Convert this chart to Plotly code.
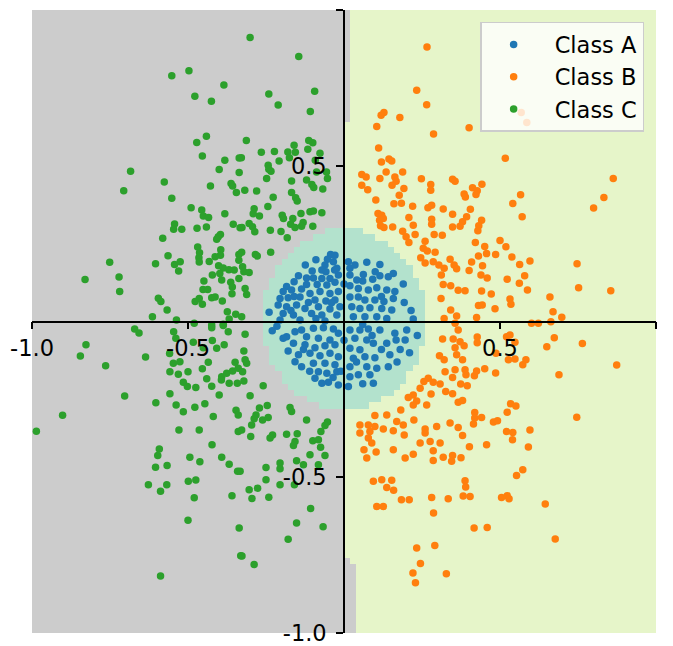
import numpy as np
import plotly.graph_objects as go

# ---------------- data ----------------
class_names = ["Class A", "Class B", "Class C"]
class_colors = ["#1f77b4", "#ff7f0e", "#2ca02c"]
region_colors = ["#b3e2cd", "#e6f5c9", "#cccccc"]

xa = [-0.043, -0.029, -0.034, -0.053, -0.090, -0.061, -0.071, -0.058, -0.124, -0.102, -0.023, -0.018,
      -0.146, -0.098, -0.071, -0.045, -0.160, -0.120, -0.086, -0.055, -0.029, -0.184, -0.195, -0.168,
      -0.136, -0.109, -0.077, -0.045, -0.018, -0.205, -0.179, -0.141, -0.114, -0.093, -0.058, -0.029,
      -0.211, -0.184, -0.152, -0.125, -0.082, -0.045, -0.013, -0.195, -0.162, -0.104, -0.071, -0.023,
      -0.205, -0.141, -0.061,
      0.014, 0.019, 0.035, 0.073, 0.115, 0.019, 0.041, 0.062, 0.092, 0.115, 0.142, 0.158, 0.019, 0.046,
      0.078, 0.105, 0.137, 0.163, 0.019, 0.046, 0.067, 0.099, 0.128, 0.158, 0.193, 0.025, 0.051, 0.083,
      0.121, 0.153, 0.030, 0.067, 0.105, 0.137, 0.222,
      -0.184, -0.195, -0.157, -0.136, -0.098, -0.066, -0.034, -0.018, -0.120, -0.082, -0.045, -0.162,
      -0.125, -0.093, -0.061, -0.029, -0.179, -0.146, -0.109, -0.077, -0.045, -0.018, -0.157, -0.136,
      -0.098, -0.061, -0.029, -0.082, -0.055, -0.023, -0.093, -0.050, -0.018, -0.071,
      0.019, 0.051, 0.078, 0.115, 0.163, 0.201, 0.035, 0.073, 0.137, 0.167, 0.196, 0.019, 0.051, 0.094,
      0.147, 0.030, 0.067, 0.099, 0.019, 0.073, 0.105, 0.142, 0.019, 0.046, 0.083, 0.094, 0.014,
      -0.215, -0.240, 0.235, 0.215, 0.190, 0.210, 0.170,
      -0.030, -0.120, -0.160, -0.090, -0.040, 0.060, 0.100, 0.120, 0.060, 0.090, 0.120, 0.040,
      -0.010, -0.130, -0.110, -0.035, 0.060, 0.180, -0.230, -0.170, 0.000, 0.000]
ya = [0.215, 0.213, 0.192, 0.200, 0.198, 0.181, 0.165, 0.160, 0.181, 0.162, 0.171, 0.149,
      0.147, 0.140, 0.138, 0.138, 0.128, 0.119, 0.119, 0.117, 0.126, 0.112, 0.096, 0.101,
      0.104, 0.090, 0.096, 0.090, 0.096, 0.074, 0.076, 0.079, 0.061, 0.069, 0.066, 0.069,
      0.053, 0.047, 0.053, 0.042, 0.047, 0.040, 0.047, 0.026, 0.021, 0.026, 0.021, 0.021,
      0.005, 0.005, 0.002,
      0.192, 0.171, 0.181, 0.190, 0.183, 0.149, 0.133, 0.151, 0.136, 0.147, 0.144, 0.154, 0.115, 0.106,
      0.101, 0.108, 0.101, 0.096, 0.079, 0.079, 0.069, 0.069, 0.064, 0.074, 0.061, 0.047, 0.042, 0.044,
      0.042, 0.037, 0.015, 0.015, 0.015, 0.010, 0.008,
      -0.049, -0.054, -0.033, -0.027, -0.022, -0.020, -0.024, -0.038, -0.049, -0.054, -0.059, -0.070,
      -0.075, -0.084, -0.078, -0.075, -0.095, -0.107, -0.102, -0.110, -0.102, -0.113, -0.129, -0.145,
      -0.134, -0.134, -0.139, -0.161, -0.166, -0.161, -0.182, -0.195, -0.204, -0.198,
      -0.027, -0.027, -0.024, -0.027, -0.038, -0.027, -0.054, -0.059, -0.070, -0.059, -0.059, -0.086, -0.091, -0.070,
      -0.107, -0.118, -0.113, -0.116, -0.145, -0.145, -0.150, -0.145, -0.177, -0.171, -0.171, -0.198, -0.209,
      -0.015, 0.030, -0.045, 0.035, 0.120, -0.100, -0.130,
      0.165, 0.140, 0.080, 0.010, 0.060, 0.130, 0.160, 0.080, -0.010, -0.045, -0.090, -0.130,
      -0.160, -0.090, -0.160, -0.180, -0.200, -0.090, -0.030, 0.035, -0.060, 0.120]

xb = [0.266, 0.233, 0.265, 0.128, 0.119, 0.179, 0.105, 0.287, 0.111, 0.144, 0.153, 0.120,
      0.401, 0.517, 0.568, 0.586,
      0.057, 0.071, 0.057, 0.076, 0.135, 0.115, 0.163, 0.188, 0.167, 0.154, 0.192, 0.248, 0.278, 0.278,
      0.177, 0.102, 0.160, 0.184, 0.220, 0.269, 0.281, 0.318, 0.109, 0.121, 0.114, 0.126, 0.117, 0.128,
      0.156, 0.208, 0.222, 0.281, 0.281, 0.188, 0.199, 0.208, 0.228, 0.260, 0.289, 0.315, 0.254, 0.267,
      0.292, 0.246, 0.260, 0.286, 0.304, 0.321, 0.312, 0.318, 0.311, 0.321,
      0.348, 0.356, 0.442, 0.412, 0.427, 0.423, 0.385, 0.389, 0.566, 0.541, 0.571, 0.863, 0.833, 0.800,
      0.405, 0.348, 0.393, 0.441, 0.380, 0.372, 0.348, 0.432, 0.429, 0.421, 0.451, 0.500, 0.519, 0.457,
      0.486, 0.431, 0.538, 0.409, 0.444, 0.563, 0.596, 0.353, 0.361, 0.401, 0.340, 0.439, 0.459, 0.523,
      0.579, 0.562, 0.588, 0.747, 0.752, 0.855, 0.342, 0.366, 0.388, 0.441, 0.472, 0.532, 0.535, 0.660,
      0.431, 0.443, 0.484, 0.342, 0.361, 0.425, 0.670, 0.698, 0.663, 0.601, 0.623, 0.356,
      0.316, 0.306, 0.321, 0.324, 0.270, 0.256, 0.286, 0.308, 0.244, 0.279, 0.222, 0.206, 0.233, 0.222,
      0.265, 0.326, 0.099, 0.137, 0.182, 0.224, 0.169, 0.190, 0.051, 0.078, 0.051, 0.083, 0.099, 0.126,
      0.158, 0.193, 0.260, 0.297, 0.260, 0.078, 0.089, 0.244, 0.276, 0.308, 0.064, 0.103, 0.158, 0.286,
      0.073, 0.222, 0.196, 0.286, 0.318, 0.094, 0.121, 0.153,
      0.366, 0.350, 0.372, 0.385, 0.356, 0.427, 0.427, 0.521, 0.532, 0.548, 0.487, 0.527, 0.548, 0.573,
      0.583, 0.674, 0.650, 0.764, 0.874, 0.689, 0.361, 0.380, 0.356, 0.388, 0.391, 0.418, 0.425, 0.451,
      0.486, 0.348, 0.374, 0.395, 0.348, 0.366, 0.380, 0.534, 0.551, 0.523, 0.419, 0.419, 0.441, 0.415,
      0.479, 0.492, 0.746, 0.340, 0.366, 0.521, 0.541, 0.540, 0.596, 0.380, 0.457, 0.402, 0.591, 0.348,
      0.375, 0.345, 0.573, 0.553, 0.388,
      0.137, 0.159, 0.184, 0.209, 0.105, 0.126, 0.281, 0.334, 0.287, 0.233, 0.291, 0.245, 0.221, 0.229,
      0.328, 0.390, 0.382, 0.404, 0.505, 0.523, 0.529, 0.645, 0.417, 0.459, 0.677]
yb = [0.881, 0.742, 0.696, 0.671, 0.662, 0.655, 0.626, 0.602, 0.557, 0.522, 0.515, 0.512,
      0.622, 0.524, 0.671, 0.639,
      0.472, 0.464, 0.437, 0.423, 0.480, 0.459, 0.464, 0.480, 0.450, 0.437, 0.427, 0.458, 0.440, 0.421,
      0.405, 0.390, 0.378, 0.380, 0.370, 0.365, 0.373, 0.361, 0.347, 0.341, 0.325, 0.331, 0.307, 0.302,
      0.303, 0.334, 0.309, 0.328, 0.312, 0.290, 0.272, 0.254, 0.279, 0.258, 0.279, 0.277, 0.235, 0.226,
      0.222, 0.205, 0.188, 0.192, 0.181, 0.171, 0.149, 0.119, 0.074, 0.010,
      0.457, 0.450, 0.441, 0.429, 0.420, 0.408, 0.409, 0.400, 0.407, 0.379, 0.336, 0.459, 0.398, 0.364,
      0.360, 0.344, 0.336, 0.325, 0.320, 0.306, 0.303, 0.307, 0.291, 0.254, 0.241, 0.260, 0.240, 0.218,
      0.215, 0.210, 0.207, 0.191, 0.179, 0.183, 0.194, 0.181, 0.169, 0.164, 0.200, 0.149, 0.140, 0.136,
      0.147, 0.123, 0.101, 0.185, 0.108, 0.099, 0.115, 0.100, 0.099, 0.098, 0.088, 0.072, 0.055, 0.079,
      0.051, 0.053, 0.041, 0.037, 0.018, 0.013, 0.031, 0.014, -0.001, -0.006, -0.006, -0.006,
      -0.056, -0.110, -0.123, -0.161, -0.182, -0.193, -0.195, -0.201, -0.214, -0.233, -0.236, -0.244, -0.255, -0.268,
      -0.268, -0.225, -0.302, -0.300, -0.284, -0.316, -0.321, -0.332, -0.332, -0.332, -0.358, -0.353, -0.337, -0.345,
      -0.351, -0.364, -0.345, -0.337, -0.358, -0.374, -0.390, -0.390, -0.385, -0.390, -0.412, -0.419, -0.412, -0.415,
      -0.438, -0.426, -0.438, -0.446, -0.436, -0.513, -0.508, -0.510,
      -0.027, -0.056, -0.065, -0.078, -0.084, -0.050, -0.068, -0.049, -0.043, -0.067, -0.102, -0.123, -0.120, -0.139,
      -0.123, -0.052, -0.081, -0.071, -0.140, -0.171, -0.107, -0.123, -0.155, -0.155, -0.171, -0.174, -0.159, -0.152,
      -0.165, -0.180, -0.201, -0.206, -0.232, -0.259, -0.254, -0.264, -0.271, -0.291, -0.292, -0.310, -0.308, -0.329,
      -0.323, -0.319, -0.307, -0.326, -0.340, -0.353, -0.356, -0.380, -0.348, -0.366, -0.396, -0.402, -0.403, -0.430,
      -0.437, -0.449, -0.476, -0.494, -0.511,
      -0.533, -0.542, -0.572, -0.572, -0.594, -0.594, -0.565, -0.569, -0.615, -0.727, -0.719, -0.777, -0.807, -0.839,
      -0.810, -0.531, -0.560, -0.562, -0.565, -0.559, -0.569, -0.586, -0.663, -0.661, -0.698]

xc = [-0.552, -0.497, -0.385, -0.478, -0.425, -0.441, -0.472, -0.454, -0.382, -0.336,
      -0.301, -0.145, -0.241, -0.211, -0.094, -0.108, -0.313, -0.329, -0.265, -0.223, -0.180, -0.160,
      -0.156, -0.175, -0.208, -0.116, -0.113, -0.100, -0.077, -0.092, -0.243,
      -0.684, -0.576, -0.706, -0.552, -0.400, -0.428, -0.362, -0.357, -0.345, -0.336, -0.490, -0.456,
      -0.451, -0.434, -0.382, -0.543, -0.546, -0.520, -0.471, -0.441, -0.355, -0.333, -0.581, -0.396,
      -0.403, -0.408, -0.469, -0.463, -0.465, -0.464, -0.395, -0.396, -0.413, -0.432, -0.337, -0.337,
      -0.564, -0.751, -0.604, -0.543, -0.525, -0.530, -0.721, -0.830, -0.719, -0.402, -0.387, -0.369,
      -0.352, -0.398, -0.422, -0.392, -0.337, -0.449, -0.363, -0.358, -0.452, -0.437, -0.359, -0.595,
      -0.587, -0.567, -0.614, -0.537, -0.477, -0.464, -0.454, -0.424, -0.413, -0.390, -0.374, -0.347,
      -0.368, -0.480, -0.424, -0.387,
      -0.241, -0.234, -0.318, -0.248, -0.168, -0.120, -0.103, -0.097, -0.068, -0.053, -0.056, -0.088,
      -0.280, -0.168, -0.155, -0.150, -0.227, -0.244, -0.288, -0.291, -0.271, -0.198, -0.194, -0.164,
      -0.138, -0.109, -0.098, -0.071, -0.327, -0.304, -0.293, -0.286, -0.236, -0.202, -0.171, -0.157,
      -0.131, -0.136, -0.100, -0.182, -0.328, -0.284, -0.278, -0.235, -0.325, -0.321, -0.304, -0.317,
      -0.312, -0.328,
      -0.671, -0.657, -0.827, -0.845, -0.764, -0.636, -0.703, -0.603, -0.902, -0.986, -0.546, -0.539,
      -0.483, -0.422, -0.424, -0.387, -0.371, -0.384, -0.408, -0.451, -0.559, -0.547, -0.526, -0.435,
      -0.454, -0.500, -0.558, -0.531, -0.440, -0.515, -0.502, -0.475, -0.424, -0.392, -0.393, -0.368,
      -0.376, -0.357, -0.349, -0.339, -0.342, -0.558, -0.400, -0.538, -0.515, -0.478, -0.446, -0.419,
      -0.346, -0.339, -0.529, -0.464, -0.423, -0.592, -0.597, -0.604, -0.567, -0.494, -0.462, -0.392,
      -0.368, -0.341, -0.627, -0.568, -0.499, -0.475, -0.339,
      -0.317, -0.321, -0.317, -0.312, -0.325, -0.321, -0.259, -0.301, -0.246, -0.271, -0.282, -0.288,
      -0.261, -0.243, -0.173, -0.168, -0.120, -0.296, -0.328, -0.229, -0.237, -0.299, -0.184, -0.150,
      -0.157, -0.162, -0.100, -0.082, -0.074, -0.053, -0.061, -0.075, -0.109, -0.061, -0.152, -0.130,
      -0.205, -0.205, -0.250, -0.082, -0.250, -0.333,
      -0.588, -0.480, -0.359, -0.500, -0.336, -0.331, -0.588,
      -0.304, -0.277, -0.295, -0.241, -0.205, -0.159, -0.107, -0.152, -0.067, -0.179, -0.327, -0.288]
yc = [0.789, 0.805, 0.759, 0.723, 0.707, 0.595, 0.575, 0.531, 0.518, 0.525,
      0.912, 0.851, 0.730, 0.695, 0.739, 0.674, 0.581, 0.526, 0.543, 0.546, 0.544, 0.566,
      0.543, 0.526, 0.515, 0.553, 0.581, 0.574, 0.540, 0.518, 0.502,
      0.482, 0.448, 0.420, 0.396, 0.488, 0.435, 0.443, 0.435, 0.414, 0.478, 0.365, 0.358,
      0.339, 0.334, 0.346, 0.313, 0.296, 0.296, 0.299, 0.303, 0.312, 0.301, 0.267, 0.279,
      0.272, 0.264, 0.239, 0.221, 0.205, 0.191, 0.230, 0.213, 0.208, 0.193, 0.215, 0.197,
      0.211, 0.190, 0.185, 0.183, 0.192, 0.162, 0.143, 0.135, 0.096, 0.179, 0.172, 0.166,
      0.165, 0.154, 0.149, 0.133, 0.138, 0.130, 0.126, 0.111, 0.103, 0.103, 0.089, 0.075,
      0.064, 0.037, 0.015, 0.005, 0.064, 0.074, 0.055, 0.076, 0.079, 0.066, 0.031, 0.023,
      0.008, -0.006, -0.011, -0.009,
      0.489, 0.482, 0.421, 0.459, 0.451, 0.454, 0.440, 0.430, 0.425, 0.459, 0.480, 0.480,
      0.419, 0.414, 0.397, 0.387, 0.399, 0.369, 0.362, 0.346, 0.339, 0.341, 0.331, 0.331,
      0.347, 0.352, 0.355, 0.349, 0.302, 0.315, 0.304, 0.288, 0.293, 0.289, 0.312, 0.302,
      0.318, 0.306, 0.306, 0.269, 0.222, 0.215, 0.210, 0.222, 0.176, 0.160, 0.157, 0.106,
      0.087, 0.015,
      -0.024, -0.037, -0.075, -0.111, -0.142, -0.114, -0.239, -0.261, -0.301, -0.352, -0.033, -0.054,
      -0.067, -0.061, -0.020, -0.013, -0.033, -0.075, -0.086, -0.084, -0.103, -0.134, -0.129, -0.131,
      -0.152, -0.161, -0.161, -0.169, -0.184, -0.195, -0.209, -0.212, -0.208, -0.177, -0.188, -0.198,
      -0.166, -0.159, -0.131, -0.150, -0.198, -0.232, -0.236, -0.268, -0.290, -0.275, -0.264, -0.305,
      -0.285, -0.300, -0.348, -0.348, -0.396, -0.409, -0.430, -0.468, -0.462, -0.436, -0.450, -0.436,
      -0.458, -0.481, -0.524, -0.524, -0.513, -0.509, -0.353,
      -0.041, -0.095, -0.123, -0.134, -0.161, -0.191, -0.206, -0.238, -0.270, -0.278, -0.300, -0.312,
      -0.316, -0.308, -0.276, -0.289, -0.316, -0.332, -0.348, -0.364, -0.374, -0.369, -0.362, -0.360,
      -0.385, -0.398, -0.383, -0.380, -0.353, -0.323, -0.334, -0.404, -0.428, -0.430, -0.447, -0.460,
      -0.454, -0.473, -0.469, -0.460, -0.508, -0.481,
      -0.545, -0.566, -0.559, -0.638, -0.663, -0.752, -0.817,
      -0.540, -0.535, -0.568, -0.564, -0.524, -0.524, -0.600, -0.647, -0.659, -0.699, -0.753, -0.780]

tick_vals = [-1.0, -0.5, 0.5, 1.0]
tick_text = ["-1.0", "-0.5", "0.5", "1.0"]

# ---------------- decision regions on a grid ----------------
step = 0.02
gx = np.arange(-1 + step / 2, 1, step)
gy = np.arange(-1 + step / 2, 1, step)
GX, GY = np.meshgrid(gx, gy)


def boundary_x(y):
    # x-position of the C/B boundary, varying slightly with y
    b = np.zeros_like(y)
    b[y > 0.645] = 0.02
    b[(y < -0.75)] = 0.02
    b[(y < -0.78)] = 0.04
    return b


Z = np.where(GX < boundary_x(GY), 1.0, 0.5)  # 1.0 -> C (gray), 0.5 -> B (green)
by = np.where(GY > 0, 0.30, 0.29)
inside_a = (np.abs(GX) / 0.265) ** 1.9 + (np.abs(GY) / by) ** 1.9 < 1
Z[inside_a] = 0.0  # A (teal)

fig = go.Figure()
fig.add_trace(go.Heatmap(
    x=gx, y=gy, z=Z, zmin=0, zmax=1, zsmooth=False, showscale=False, hoverinfo="skip",
    colorscale=[[0, region_colors[0]], [0.5, region_colors[1]], [1, region_colors[2]]],
))

for name, col, xs, ys in zip(class_names, class_colors, [xa, xb, xc], [ya, yb, yc]):
    fig.add_trace(go.Scatter(
        x=xs, y=ys, mode="markers", name=name, legendgroup=name,
        marker=dict(color=col, size=7.5, line=dict(width=0)),
    ))

font = dict(family="DejaVu Sans", size=22.5, color="black")
axis_common = dict(
    range=[-1, 1], showgrid=False, zeroline=False, showline=True, linecolor="black",
    linewidth=1.6, ticks="outside", ticklen=7, tickwidth=1.6, tickcolor="black",
    tickvals=tick_vals, ticktext=tick_text, tickfont=font, anchor="free", position=0.5,
    fixedrange=True, automargin=False,
)
fig.update_layout(
    width=673, height=646,
    margin=dict(l=32, r=17, t=10, b=13, autoexpand=False),
    plot_bgcolor="white", paper_bgcolor="white",
    xaxis=dict(**axis_common),
    yaxis=dict(**axis_common, ticklabelstandoff=5),
    showlegend=True,
    legend=dict(
        x=0.981, y=0.981, xanchor="right", yanchor="top",
        bgcolor="rgba(255,255,255,0.8)", bordercolor="#cccccc", borderwidth=1.5,
        font=dict(family="DejaVu Sans", size=22.5, color="black"),
        tracegroupgap=0, itemwidth=72, indentation=-9,
    ),
)

fig.write_html(
    "out.html",
    config={"displayModeBar": False},
    post_script="document.body.style.margin='0';document.body.style.overflow='hidden';",
)
